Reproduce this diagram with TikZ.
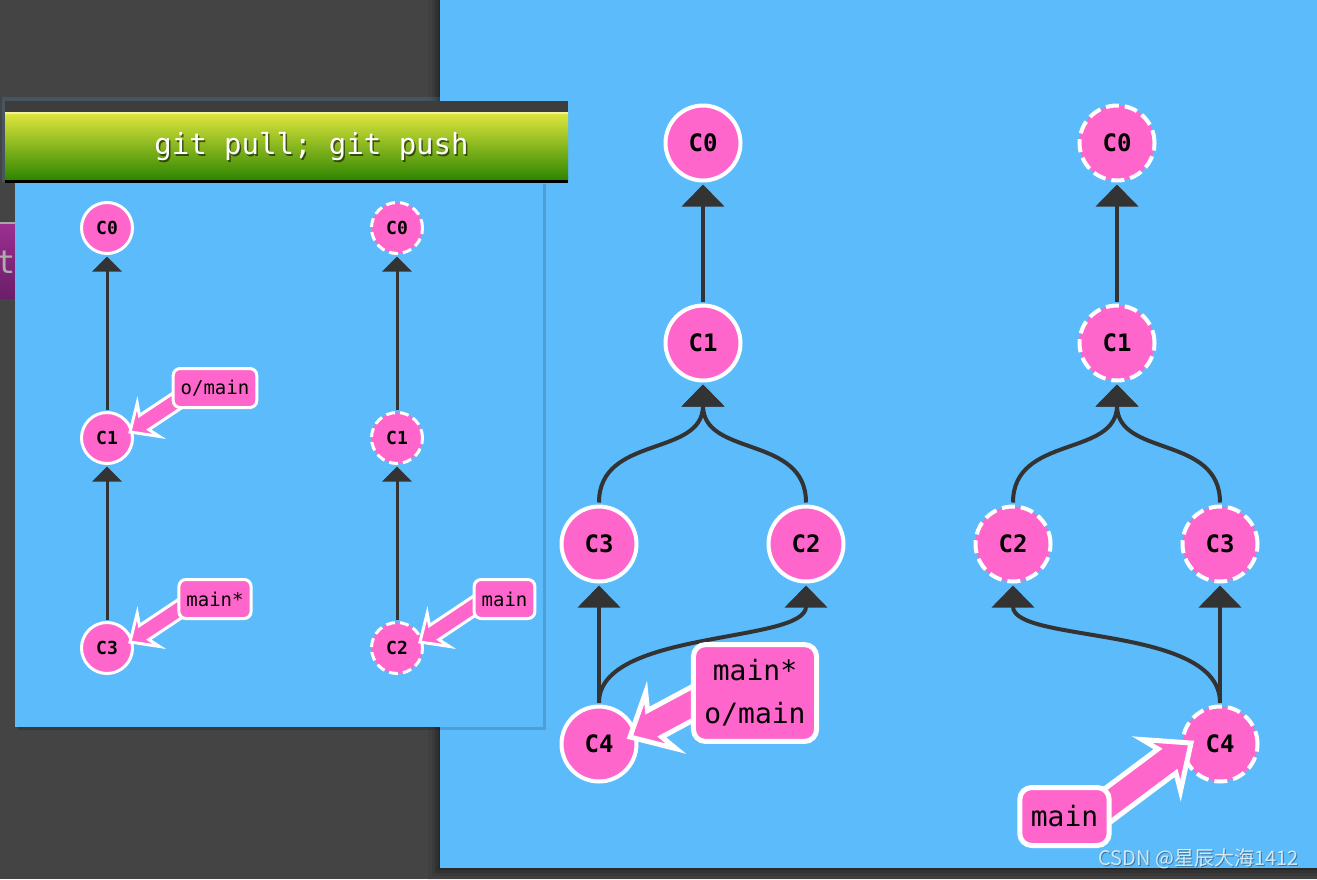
\documentclass[tikz,border=0pt]{standalone}
\usepackage{fontspec}
\setmainfont{DejaVu Sans}
\newfontfamily\gitmono{DejaVu Sans Mono}
\newfontfamily\cjkfont{Noto Sans CJK SC}
\usetikzlibrary{arrows.meta,calc}
\definecolor{bgdark}{HTML}{444444}
\definecolor{panelblue}{HTML}{5CBBFB}
\definecolor{commitpink}{HTML}{FF66CC}
\definecolor{edgegray}{HTML}{333333}
\definecolor{bartop}{HTML}{E2E83E}
\definecolor{barmid}{HTML}{9CC51F}
\definecolor{barbot}{HTML}{2E8500}
\definecolor{bardark}{HTML}{3D3D3D}
\definecolor{purpletop}{HTML}{9B2F91}
\definecolor{purplebot}{HTML}{6A1E68}
% #1 start, #2 tip, #3 half shaft, #4 half head, #5 junction distance, #6 barb distance, #7 border
\newcommand\reftagarrow[7]{%
  \coordinate (#1-hb) at ($(#2)!#5!(#1)$);
  \coordinate (#1-bb) at ($(#2)!#6!(#1)$);
  \filldraw[fill=commitpink,draw=white,line width=#7,line join=miter]
    ($(#1)!#3!90:(#2)$) -- ($(#1-hb)!#3!90:(#2)$) -- ($(#1-bb)!#4!90:(#2)$) -- (#2)
    -- ($(#1-bb)!#4!-90:(#2)$) -- ($(#1-hb)!#3!-90:(#2)$) -- ($(#1)!#3!-90:(#2)$) -- cycle;
}
\tikzset{
  bigcommit/.style={circle,minimum size=75pt,inner sep=0pt,fill=commitpink,draw=white,line width=4pt,
    font=\gitmono\bfseries\fontsize{24}{24}\selectfont},
  smallcommit/.style={circle,minimum size=51pt,inner sep=0pt,fill=commitpink,draw=white,line width=3pt,
    font=\gitmono\bfseries\fontsize{18}{18}\selectfont},
  bigghost/.style={bigcommit,dash pattern=on 13pt off 6pt},
  smallghost/.style={smallcommit,dash pattern=on 9pt off 5pt},
  bigedge/.style={draw=edgegray,line width=4pt,-{Triangle[width=42pt,length=22pt]},shorten <=2pt,shorten >=2pt},
  smalledge/.style={draw=edgegray,line width=3pt,-{Triangle[width=29pt,length=15pt]},shorten <=1.5pt,shorten >=1.5pt},
  smalltag/.style={rounded corners=7pt,fill=commitpink,draw=white,line width=3pt,inner xsep=7.5pt,inner ysep=0pt,
    minimum height=39pt,font=\gitmono\fontsize{19}{19}\selectfont},
  bigtag/.style={rounded corners=12pt,fill=commitpink,draw=white,line width=5pt,inner xsep=11pt,inner ysep=15pt,
    minimum height=58pt,align=center,font=\gitmono\fontsize{28}{43}\selectfont},
}
\begin{document}
\begin{tikzpicture}[x=1pt,y=-1pt]
\useasboundingbox (0,0) rectangle (1317,879);
\fill[bgdark] (0,0) rectangle (1317,879);
% big panel with shadow
\foreach \d/\o in {12/0.05,8/0.08,5/0.12,2/0.16}
  \fill[black,opacity=\o] (440-\d,0) rectangle (1317,868+\d);
\fill[panelblue] (440,0) rectangle (1317,868);

% ---------- right tree 1 ----------
\node[bigcommit] (aC0) at (703,143) {C0};
\node[bigcommit] (aC1) at (703,343) {C1};
\node[bigcommit] (aC3) at (599,544) {C3};
\node[bigcommit] (aC2) at (806,544) {C2};
\node[bigcommit] (aC4) at (599,744) {C4};
\draw[bigedge] (aC1) -- (aC0);
\draw[bigedge] (aC3.north) .. controls +(0,-70) and +(0,75) .. (aC1.south);
\draw[bigedge] (aC2.north) .. controls +(0,-70) and +(0,75) .. (aC1.south);
\draw[bigedge] (aC4) -- (aC3);
\draw[bigedge] (aC4.north) .. controls +(0,-75) and +(0,60) .. (aC2.south);
\coordinate (bMs) at (725,686);
\coordinate (bMt) at (630,737);
\reftagarrow{bMs}{bMt}{15pt}{32pt}{28pt}{35pt}{5pt}
\node[bigtag] (tagA) at (755,693) {main*\\o/main};

% ---------- right tree 2 ----------
\node[bigghost] (bC0) at (1117,143) {C0};
\node[bigghost] (bC1) at (1117,343) {C1};
\node[bigghost] (bC2) at (1013,544) {C2};
\node[bigghost] (bC3) at (1220,544) {C3};
\node[bigghost] (bC4) at (1220,744) {C4};
\draw[bigedge] (bC1) -- (bC0);
\draw[bigedge] (bC2.north) .. controls +(0,-70) and +(0,75) .. (bC1.south);
\draw[bigedge] (bC3.north) .. controls +(0,-70) and +(0,75) .. (bC1.south);
\draw[bigedge] (bC4) -- (bC3);
\draw[bigedge] (bC4.north) .. controls +(0,-80) and +(0,60) .. (bC2.south);
\coordinate (cMs) at (1080,826);
\coordinate (cMt) at (1191,743);
\reftagarrow{cMs}{cMt}{15pt}{32pt}{30pt}{37pt}{5pt}
\node[bigtag] (tagB) at (1064.5,816.5) {main};

% ---------- purple element at left ----------
\shade[top color=purpletop,bottom color=purplebot] (-5,224) rectangle (40,298);
\fill[gray!70] (-5,222) rectangle (40,224);
\node[anchor=base west,text=gray!65,inner sep=0pt,font=\gitmono\fontsize{32}{32}\selectfont] (tletter) at (-4,273) {t};

% ---------- dialog ----------
\fill[black,opacity=0.15] (18,184) rectangle (546,730);
\fill[panelblue] (15,180) rectangle (543,727);
\fill[panelblue,opacity=0.15] (2,97) rectangle (571,182);
\fill[bardark] (5,101) rectangle (568,112);
\shade[top color=bartop,middle color=barmid,bottom color=barbot] (5,112) rectangle (568,180);
\fill[white,opacity=0.5] (5,112) rectangle (568,113.5);
\fill[black] (5,179.5) rectangle (568,182.5);
\node[text=black,opacity=0.55,font=\gitmono\fontsize{29}{29}\selectfont] (titleshadow) at (313,149) {git pull; git push};
\node[text=white,font=\gitmono\fontsize{29}{29}\selectfont] (title) at (311.5,147) {git pull; git push};

% ---------- left tree 1 ----------
\node[smallcommit] (lC0) at (107,228) {C0};
\node[smallcommit] (lC1) at (107,438) {C1};
\node[smallcommit] (lC3) at (107,648) {C3};
\draw[smalledge] (lC1) -- (lC0);
\draw[smalledge] (lC3) -- (lC1);
\coordinate (sOs) at (190,392);
\coordinate (sOt) at (130,432);
\reftagarrow{sOs}{sOt}{8.5pt}{20pt}{17pt}{22pt}{3pt}
\node[smalltag] (tagO) at (215,388) {o/main};
\coordinate (sMs) at (190,602);
\coordinate (sMt) at (130,642);
\reftagarrow{sMs}{sMt}{8.5pt}{20pt}{17pt}{22pt}{3pt}
\node[smalltag] (tagM) at (215,599) {main*};

% ---------- left tree 2 ----------
\node[smallghost] (mC0) at (397,228) {C0};
\node[smallghost] (mC1) at (397,438) {C1};
\node[smallghost] (mC2) at (397,648) {C2};
\draw[smalledge] (mC1) -- (mC0);
\draw[smalledge] (mC2) -- (mC1);
\coordinate (tMs) at (480,602);
\coordinate (tMt) at (420,642);
\reftagarrow{tMs}{tMt}{8.5pt}{20pt}{17pt}{22pt}{3pt}
\node[smalltag] (tagN) at (504.5,599) {main};

% ---------- watermark ----------
\node[anchor=east,text=black,opacity=0.35,font=\cjkfont\fontsize{20}{20}\selectfont] (wmshadow) at (1303,860) {CSDN @星辰大海1412};
\node[anchor=east,text=white,opacity=0.75,font=\cjkfont\fontsize{20}{20}\selectfont] (wm) at (1302,859) {CSDN @星辰大海1412};
\end{tikzpicture}
\end{document}
